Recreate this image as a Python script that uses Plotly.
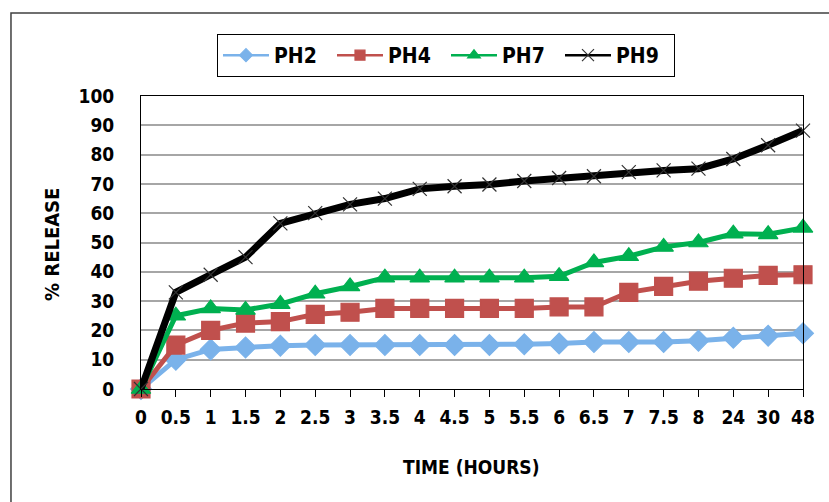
import plotly.graph_objects as go

times = ["0", "0.5", "1", "1.5", "2", "2.5", "3", "3.5", "4", "4.5", "5", "5.5",
         "6", "6.5", "7", "7.5", "8", "24", "30", "48"]
ph2 = [0, 10, 13.5, 14.2, 14.8, 15, 15, 15, 15, 15, 15, 15.3, 15.5, 16, 16, 16, 16.5, 17.5, 18.2, 19]
ph4 = [0, 15, 20, 22.5, 23, 25.5, 26.2, 27.5, 27.5, 27.5, 27.5, 27.5, 28, 28, 33, 35, 36.8, 37.8, 38.8, 39]
ph7 = [0, 25, 27.5, 27, 29, 32.5, 35, 38, 38, 38, 38, 38, 38.5, 43.2, 45.3, 48.5, 50, 53, 52.8, 55]
ph9 = [0, 33, 39, 45, 56.5, 60, 63, 65, 68.3, 69.2, 69.8, 71, 72, 72.6, 74, 74.6, 75.2, 78.5, 83.2, 88.2]

FONT = "DejaVu Sans Condensed"

fig = go.Figure()
series = [
    ("PH2", ph2, "#7AB2EA", "diamond", 16, 5, 10),
    ("PH4", ph4, "#C0504D", "square", 18, 5, 10),
    ("PH7", ph7, "#00B050", "triangle-up", 17, 5, 11),
    ("PH9", ph9, "#000000", "x-thin", 14, 7, 12),
]
for name, vals, col, sym, size, lw, lsize in series:
    mline = dict(color="#333333" if sym == "x-thin" else col, width=1.2)
    fig.add_trace(go.Scatter(
        x=times, y=vals, name=name, mode="lines+markers", showlegend=False,
        line=dict(color=col, width=lw),
        marker=dict(symbol=sym, size=size, color=col, line=mline),
        cliponaxis=False,
    ))
    # legend entry (smaller marker / thinner line, as in the reference legend)
    fig.add_trace(go.Scatter(
        x=[None], y=[None], name=name, mode="lines+markers", showlegend=True,
        line=dict(color=col, width=2.5),
        marker=dict(symbol=sym, size=lsize, color=col, line=mline),
    ))

fig.update_layout(
    width=829, height=502,
    margin=dict(l=141, r=26, t=96, b=113),
    paper_bgcolor="white", plot_bgcolor="white",
    font=dict(family=FONT, size=19, color="black", weight="bold"),
    showlegend=True,
    legend=dict(orientation="h", x=0.1148, xanchor="left", y=1.2116, yanchor="top",
                bordercolor="black", borderwidth=1, bgcolor="white",
                font=dict(family=FONT, size=21, weight="bold"),
                itemwidth=46, entrywidth=53, entrywidthmode="pixels", tracegroupgap=0),
    xaxis=dict(type="category", range=[0, 19], showgrid=False,
               showline=True, linecolor="black", linewidth=1, mirror=True,
               ticks="outside", ticklen=7, tickcolor="black",
               tickfont=dict(family=FONT, size=19, weight="bold"),
               ticklabelstandoff=4),
    yaxis=dict(range=[0, 100], dtick=10, showgrid=True, gridcolor="#A6A6A6", gridwidth=1.5,
               showline=True, linecolor="black", linewidth=1, mirror=True,
               ticks="", zeroline=False,
               tickfont=dict(family=FONT, size=19, weight="bold"),
               ticklabelstandoff=22),
    shapes=[dict(type="rect", xref="paper", yref="paper",
                 x0=-0.1964, x1=1.06, y0=-0.45, y1=1.2833,
                 line=dict(color="#404040", width=1.5), layer="below")],
    annotations=[
        dict(text="% RELEASE", xref="paper", yref="paper", x=-0.1344, y=0.4915,
             textangle=-90, showarrow=False, xanchor="center", yanchor="middle",
             font=dict(family=FONT, size=20, weight="bold")),
        dict(text="TIME (HOURS)", xref="paper", yref="paper", x=0.4985, y=-0.266,
             showarrow=False, xanchor="center", yanchor="middle",
             font=dict(family=FONT, size=19, weight="bold")),
    ],
)

fig.write_html("out.html")
